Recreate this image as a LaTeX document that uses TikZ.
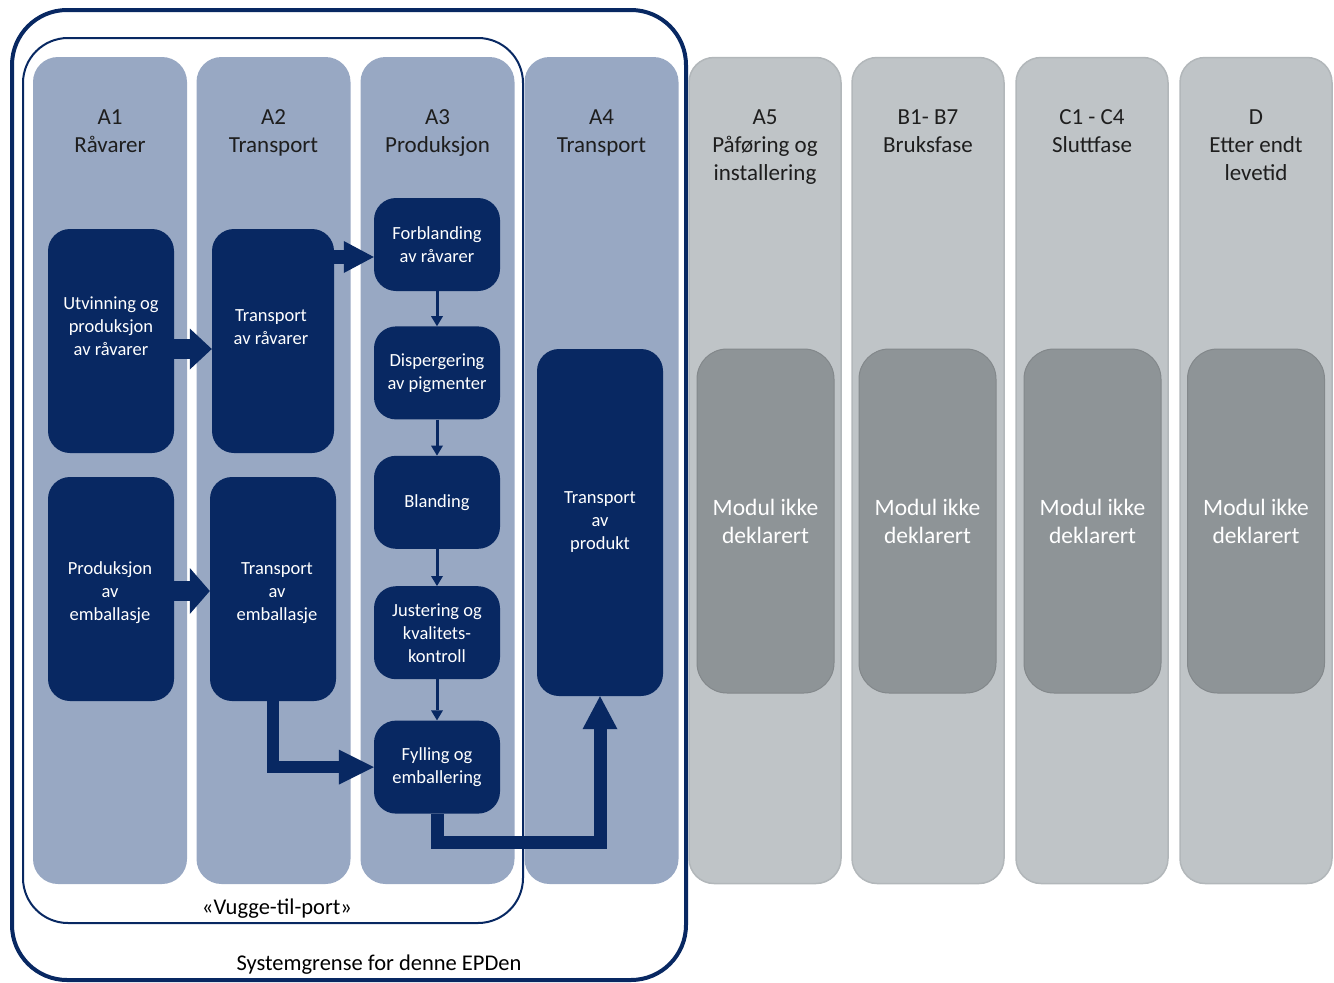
\documentclass[tikz,border=0pt]{standalone}
\usepackage{fontspec}
\setmainfont{Carlito}
\usetikzlibrary{arrows.meta}
\usetikzlibrary{positioning}

\definecolor{epdnavy}{HTML}{082862}
\definecolor{colblue}{HTML}{98A8C3}
\definecolor{colgray}{HTML}{BFC4C7}
\definecolor{colgrayline}{HTML}{B2B7BA}
\definecolor{boxgray}{HTML}{8E9497}
\definecolor{headink}{HTML}{1E1E1E}

\begin{document}
\begin{tikzpicture}[x=1pt, y=-1pt,
  bluecol/.style={fill=colblue, rounded corners=25pt, inner sep=0pt,
    minimum width=154pt, minimum height=827pt},
  graycol/.style={fill=colgray, draw=colgrayline, line width=1.5pt, rounded corners=25pt,
    inner sep=0pt, minimum width=152pt, minimum height=826pt},
  header/.style={anchor=north, align=center, inner sep=0pt, text=headink,
    font=\fontsize{23}{28}\selectfont},
  darkbox/.style={fill=epdnavy, rounded corners=22pt, inner sep=0pt, align=center,
    text=white, minimum width=126pt, minimum height=93pt, font=\fontsize{18.5}{23}\selectfont},
  boxtext/.style={align=center, inner sep=0pt, text=white, font=\fontsize{18.5}{23}\selectfont},
  graybox/.style={fill=boxgray, draw=boxgray!92!black, line width=1pt, rounded corners=30pt,
    inner sep=0pt, align=center, text=white, minimum width=137pt, minimum height=344pt,
    font=\fontsize{23.5}{28}\selectfont},
  bordertext/.style={inner sep=0pt, text=black, font=\fontsize{22.5}{27}\selectfont},
  flowthin/.style={epdnavy, line width=3pt, -{Triangle[length=10pt, width=12pt, line width=0pt]}}]

  \useasboundingbox (0,0) rectangle (1334,983);

  % system boundaries
  \node[draw=epdnavy, line width=4pt, rounded corners=55pt, inner sep=0pt,
    minimum width=674pt, minimum height=970pt] (epd) at (349,495) {};
  \node[draw=epdnavy, line width=2pt, rounded corners=45pt, inner sep=0pt,
    minimum width=500pt, minimum height=885pt] (vugge) at (273,480.5) {};
  \node[bordertext] (vugge label) at (277,909) {«Vugge-til-port»};
  \node[bordertext] (epd label) at (379,965) {Systemgrense for denne EPDen};

  % module columns
  \foreach \cx/\cname/\ctext in {110/a1/{A1\\Råvarer}, 273.5/a2/{A2\\Transport},
      437.5/a3/{A3\\Produksjon}, 601.5/a4/{A4\\Transport}} {
    \node[bluecol] (\cname) at (\cx,470.5) {};
    \node[header, below=53pt of \cname.north] (\cname head) {\ctext};
  }
  \foreach \cx/\cname/\ctext in {765/a5/{A5\\Påføring og\\installering},
      928/b/{B1- B7\\Bruksfase}, 1092/c/{C1 - C4\\Sluttfase},
      1256/d/{D\\Etter endt\\levetid}} {
    \node[graycol] (\cname) at (\cx,470.5) {};
    \node[header, below=53pt of \cname.north] (\cname head) {\ctext};
  }

  % A1 and A2
  \node[darkbox, minimum height=224pt] (utv) at (111,341) {};
  \node[boxtext] (utv text) at (111,326) {Utvinning og\\produksjon\\av råvarer};
  \node[darkbox, minimum width=122pt, minimum height=224pt] (trra) at (273,341) {};
  \node[boxtext] (trra text) at (271,327) {Transport\\av råvarer};
  \node[darkbox, minimum height=224pt] (prem) at (111,589) {};
  \node[boxtext] (prem text) at (110,593) {Produksjon\\av\\emballasje};
  \node[darkbox, minimum height=224pt] (trem) at (273,589) {};
  \node[boxtext] (trem text) at (277,593) {Transport\\av\\emballasje};

  % A3
  \node[darkbox] (forb) at (437,244.5) {Forblanding\\av råvarer};
  \node[darkbox, below=35pt of forb] (disp) {Dispergering\\av pigmenter};
  \node[darkbox, below=36pt of disp] (blan) {Blanding};
  \node[darkbox, below=37pt of blan] (just) {Justering og\\kvalitets-\\kontroll};
  \node[darkbox, below=41pt of just] (fyll) {Fylling og\\emballering};

  % A4
  \node[darkbox, minimum height=347pt] (trpr) at (600,522.5) {Transport\\av\\produkt};

  % modules not declared
  \foreach \gx/\gname in {765.5/a5box, 927.5/bbox, 1092.5/cbox, 1256/dbox}
    \node[graybox] (\gname) at (\gx,521) {Modul ikke\\deklarert};

  % flows
  \coordinate (forb in) at ([yshift=-12.5pt]forb.west);
  \coordinate (ret) at (600,842);
  \draw[epdnavy, line width=20pt, -{Triangle[length=22pt, width=41pt, line width=0pt]}]
    ([yshift=-8pt]utv.east) -- ([yshift=-8pt]trra.west);
  \draw[epdnavy, line width=14pt, -{Triangle[length=30pt, width=32pt, line width=0pt]}]
    (trra.east |- forb in) -- (forb in);
  \draw[epdnavy, line width=20pt, -{Triangle[length=20pt, width=46pt, line width=0pt]}]
    ([yshift=-2pt]prem.east) -- ([yshift=-2pt]trem.west);
  \draw[epdnavy, line width=12pt, -{Triangle[length=35pt, width=35pt, line width=0pt]}]
    (trem.south) |- (fyll.west);
  \draw[epdnavy, line width=13pt, -{Triangle[length=33pt, width=35pt, line width=0pt]}]
    (fyll.south) |- (ret) -- (trpr.south);
  \draw[flowthin] (forb) -- (disp);
  \draw[flowthin] (disp) -- (blan);
  \draw[flowthin] (blan) -- (just);
  \draw[flowthin] (just) -- (fyll);
\end{tikzpicture}
\end{document}
